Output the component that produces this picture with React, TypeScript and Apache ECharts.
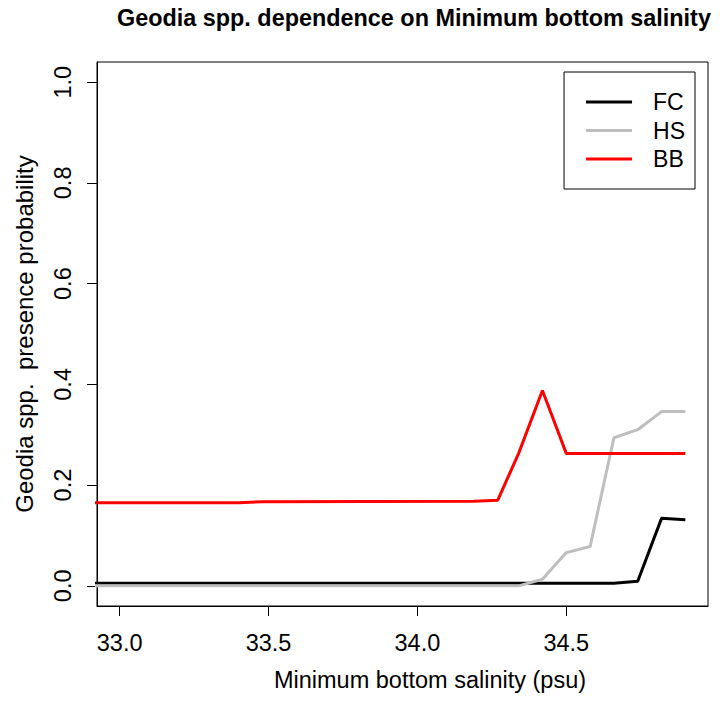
import React, { useEffect, useRef } from "react";
import * as echarts from "echarts";

const titleText = "Geodia spp. dependence on Minimum bottom salinity";
const xTitle = "Minimum bottom salinity (psu)";
const yTitle = "Geodia spp.  presence probability";

const xTicks = [33.0, 33.5, 34.0, 34.5];
const yTicks = [0, 0.2, 0.4, 0.6, 0.8, 1.0];

const seriesNames = ["FC", "HS", "BB"];
const seriesColors = ["#000000", "#BEBEBE", "#FF0000"];

const fcX = [32.9, 34.66, 34.74, 34.82, 34.9];
const fcY = [0.005, 0.005, 0.009, 0.134, 0.131];

const hsX = [32.9, 34.34, 34.42, 34.5, 34.58, 34.66, 34.74, 34.82, 34.9];
const hsY = [0.0, 0.0, 0.013, 0.066, 0.078, 0.294, 0.31, 0.346, 0.346];

const bbX = [32.9, 33.4, 33.48, 34.19, 34.27, 34.34, 34.42, 34.5, 34.9];
const bbY = [0.165, 0.165, 0.167, 0.168, 0.17, 0.263, 0.388, 0.263, 0.263];

const FONT = "'Liberation Sans', Arial, Helvetica, sans-serif";

function pairs(xs: number[], ys: number[]) {
  return xs.map((x, i) => [x, ys[i]]);
}

export default function App() {
  const ref = useRef<HTMLDivElement>(null);
  useEffect(() => {
    document.body.style.margin = "0";
    if (!ref.current) return;
    const chart = echarts.init(ref.current, null, { renderer: "svg" });
    const data = [pairs(fcX, fcY), pairs(hsX, hsY), pairs(bbX, bbY)];
    chart.setOption({
      animation: false,
      backgroundColor: "#ffffff",
      title: {
        text: titleText,
        left: 117,
        top: 6,
        padding: 0,
        textStyle: { fontFamily: FONT, fontSize: 23.4, fontWeight: "bold", color: "#000" },
      },
      grid: {
        left: 97,
        right: 12,
        top: 62,
        bottom: 98,
        show: true,
        borderColor: "#000",
        borderWidth: 1,
        backgroundColor: "transparent",
      },
      legend: {
        orient: "vertical",
        right: 25,
        top: 72,
        padding: [18, 10, 18, 22],
        itemGap: 4.5,
        itemWidth: 46,
        itemHeight: 3,
        icon: "rect",
        borderColor: "#000",
        borderWidth: 1,
        data: seriesNames,
        textStyle: {
          fontFamily: FONT,
          fontSize: 23,
          color: "#000",
          lineHeight: 24,
          padding: [0, 0, 0, 16],
        },
      },
      xAxis: {
        type: "value",
        min: 32.924,
        max: 34.976,
        name: xTitle,
        nameLocation: "middle",
        nameGap: 62,
        nameTextStyle: { fontFamily: FONT, fontSize: 23.5, color: "#000", padding: [0, 0, 0, 55] },
        axisLine: { show: true, onZero: false, lineStyle: { color: "#000", width: 1 } },
        axisTick: { show: true, inside: false, length: 10, lineStyle: { color: "#000" }, customValues: xTicks },
        axisLabel: {
          fontFamily: FONT,
          fontSize: 23.5,
          color: "#000",
          margin: 25,
          customValues: xTicks,
          formatter: (v: number) => v.toFixed(1),
        },
        splitLine: { show: false },
      },
      yAxis: {
        type: "value",
        min: -0.04,
        max: 1.04,
        name: yTitle,
        nameLocation: "middle",
        nameGap: 61,
        nameRotate: 90,
        nameTextStyle: { fontFamily: FONT, fontSize: 24, color: "#000" },
        axisLine: { show: true, onZero: false, lineStyle: { color: "#000", width: 1 } },
        axisTick: { show: true, inside: false, length: 10, lineStyle: { color: "#000" }, customValues: yTicks },
        axisLabel: {
          fontFamily: FONT,
          fontSize: 23.5,
          color: "#000",
          rotate: 90,
          margin: 22,
          customValues: yTicks,
          formatter: (v: number) => v.toFixed(1),
        },
        splitLine: { show: false },
      },
      series: seriesNames.map((name, i) => ({
        name,
        type: "line",
        data: data[i],
        symbol: "none",
        clip: true,
        lineStyle: { color: seriesColors[i], width: 3 },
        itemStyle: { color: seriesColors[i] },
      })),
    });
    return () => chart.dispose();
  }, []);
  return <div ref={ref} style={{ width: 720, height: 704 }} />;
}
